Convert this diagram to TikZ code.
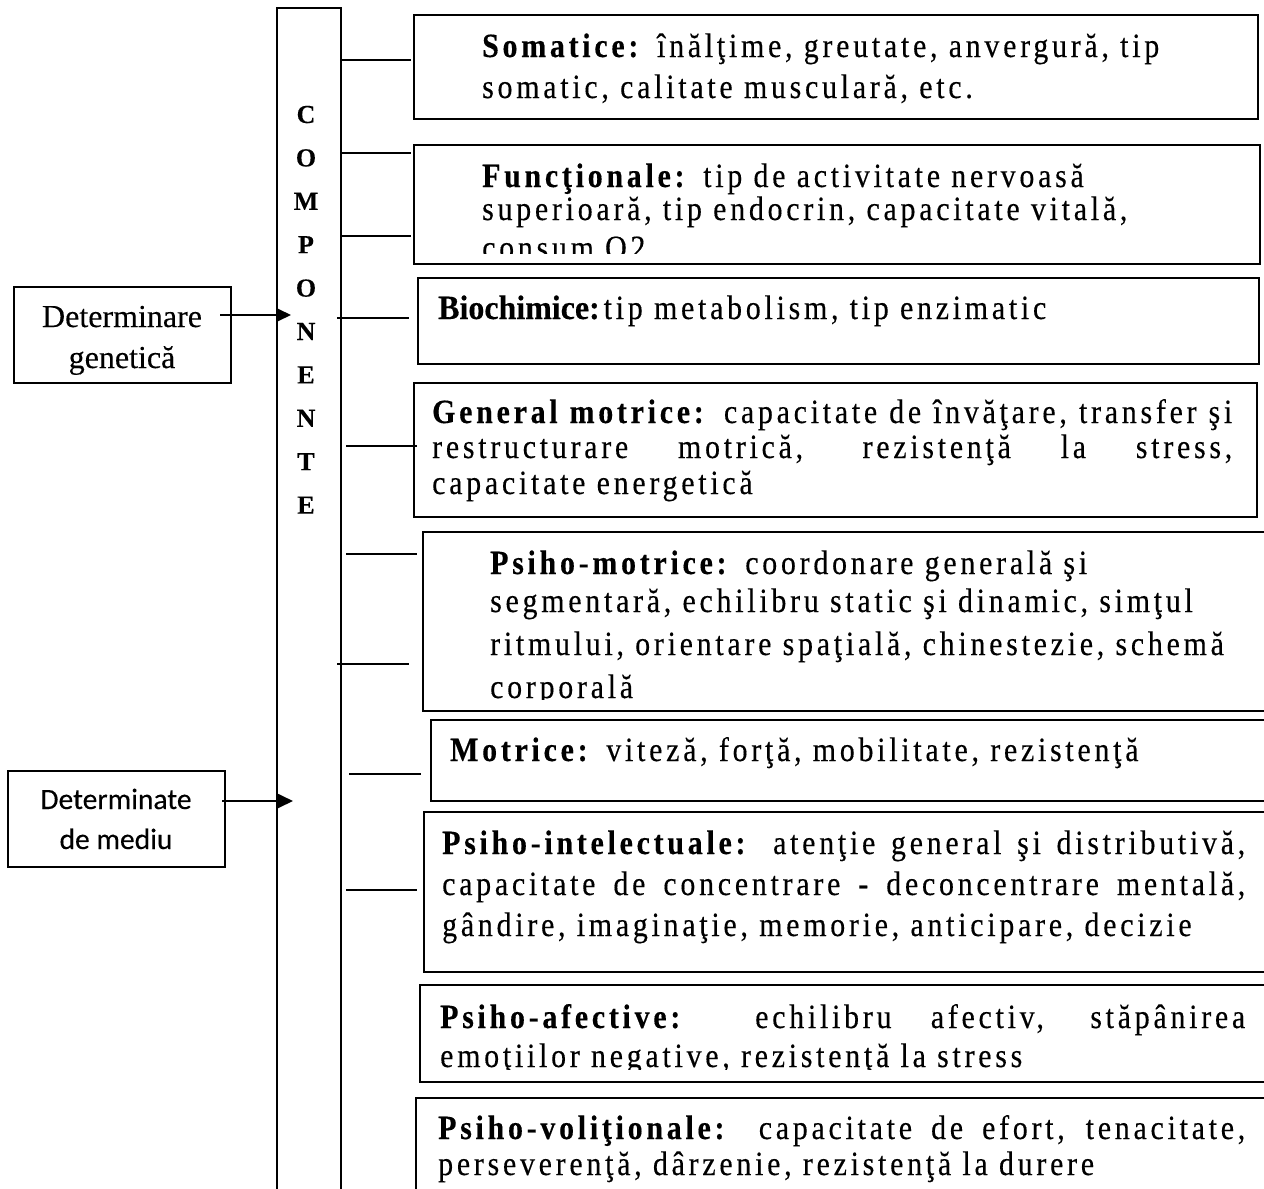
\documentclass[tikz,border=0pt]{standalone}
\usepackage{fontspec}
\setmainfont{Liberation Serif}
\newfontfamily\txf{Liberation Serif}[LetterSpace=11,FakeStretch=0.88,FakeBold=0.3]
\newfontfamily\txn{Liberation Serif}[FakeStretch=0.94,FakeBold=0.3]
\newfontfamily\dgf{Liberation Serif}[FakeBold=0.25]
\newfontfamily\carl{Carlito}[FakeBold=0.2]
\usetikzlibrary{arrows.meta}
\begin{document}
\begin{tikzpicture}[x=1pt,y=-1pt,
  frame/.style={draw, line width=1.8pt, inner sep=0pt, anchor=north west},
  conn/.style={line width=1.8pt},
  arr/.style={line width=1.8pt, -{Triangle[length=15pt,width=14pt]}},
  tl/.style={anchor=base west, inner sep=0pt, font=\txf\fontsize{34}{40}\selectfont},
  lt/.style={anchor=base, inner sep=0pt, font=\dgf\fontsize{26}{30}\selectfont\bfseries},
  dgt/.style={anchor=base, inner sep=0pt, font=\dgf\fontsize{32}{36}\selectfont},
  dmt/.style={anchor=base, inner sep=0pt, font=\carl\fontsize{29.5}{34}\selectfont},
]
\useasboundingbox (0,0) rectangle (1264,1189);

% column
\node[frame, minimum width=64pt, minimum height=1200pt] (col) at (276,7) {};
\foreach \l [count=\i] in {C,O,M,P,O,N,E,N,T,E}
  \node[lt] (L\i) at (306,{123+43.4*(\i-1)}) {\l};

% left boxes
\node[frame, minimum width=217pt, minimum height=96pt] (dg) at (13,286) {};
\node[dgt] (dg1) at (122,327) {Determinare};
\node[dgt] (dg2) at (122,368) {genetică};
\node[frame, minimum width=217pt, minimum height=96pt] (dm) at (7,770) {};
\node[dmt] (dm1) at (116,809) {Determinate};
\node[dmt] (dm2) at (116,849) {de mediu};

\coordinate (a1s) at (220,315); \coordinate (a1e) at (291,315);
\coordinate (a2s) at (222,801); \coordinate (a2e) at (293,801);
\draw[arr] (a1s) -- (a1e);
\draw[arr] (a2s) -- (a2e);

% right boxes
\node[frame, minimum width=844pt, minimum height=104pt] (som) at (413,14) {};
\node[frame, minimum width=846pt, minimum height=119pt] (fun) at (413,144) {};
\node[frame, minimum width=841pt, minimum height=86pt] (bio) at (417,277) {};
\node[frame, minimum width=843pt, minimum height=134pt] (gen) at (413,382) {};
\node[frame, minimum width=870pt, minimum height=179pt] (pmo) at (422,531) {};
\node[frame, minimum width=870pt, minimum height=81pt] (mot) at (430,719) {};
\node[frame, minimum width=870pt, minimum height=160pt] (pin) at (423,811) {};
\node[frame, minimum width=870pt, minimum height=97pt] (paf) at (419,984) {};
\node[frame, minimum width=870pt, minimum height=130pt] (pvo) at (415,1097) {};

% connectors
\foreach \y/\xa/\xb [count=\k] in {60/340/411,153/340/411,236/340/411,318/337/409,446/346/417,554/346/417,664/337/409,774/349/421,890/346/417}{
  \coordinate (c\k a) at (\xa,\y);
  \coordinate (c\k b) at (\xb,\y);
  \draw[conn] (c\k a) -- (c\k b);
}

% texts
\node[tl] (som1) at (482,57) {\textbf{Somatice:} înălţime, greutate, anvergură, tip};
\node[tl] (som2) at (482,98) {somatic, calitate musculară, etc.};

\node[tl] (fun1) at (482,187) {\textbf{Funcţionale:} tip de activitate nervoasă};
\node[tl] (fun2) at (482,220) {superioară, tip endocrin, capacitate vitală,};
\begin{scope}
  \clip (470,230) rectangle (1250,253);
  \node[tl] (fun3) at (482,259) {consum O2};
\end{scope}

\node[tl] (bio1) at (438,319) {{\txn\bfseries Biochimice:}\hspace{4pt}tip metabolism, tip enzimatic};

\node[tl] (gen1) at (432,423) {\makebox[800pt][s]{\textbf{General motrice:} capacitate de învăţare, transfer şi}};
\node[tl] (gen2) at (432,458) {\makebox[800pt][s]{restructurare motrică, rezistenţă la stress,}};
\node[tl] (gen3) at (432,494) {capacitate energetică};

\node[tl] (pmo1) at (490,574) {\textbf{Psiho-motrice:} coordonare generală şi};
\node[tl] (pmo2) at (490,612) {segmentară, echilibru static şi dinamic, simţul};
\node[tl] (pmo3) at (490,655) {ritmului, orientare spaţială, chinestezie, schemă};
\begin{scope}
  \clip (470,670) rectangle (1250,699);
  \node[tl] (pmo4) at (490,698) {corporală};
\end{scope}

\node[tl] (mot1) at (450,761) {\textbf{Motrice:} viteză, forţă, mobilitate, rezistenţă};

\node[tl] (pin1) at (442,854) {\makebox[803pt][s]{\textbf{Psiho-intelectuale:} atenţie general şi distributivă,}};
\node[tl] (pin2) at (442,895) {\makebox[803pt][s]{capacitate de concentrare - deconcentrare mentală,}};
\node[tl] (pin3) at (442,936) {gândire, imaginaţie, memorie, anticipare, decizie};

\node[tl] (paf1) at (440,1028) {\makebox[805pt][s]{\textbf{Psiho-afective:} echilibru afectiv, stăpânirea}};
\begin{scope}
  \clip (430,1035) rectangle (1250,1069);
  \node[tl] (paf2) at (440,1067) {emoţiilor negative, rezistenţă la stress};
\end{scope}

\node[tl] (pvo1) at (438,1139) {\makebox[807pt][s]{\textbf{Psiho-voliţionale:} capacitate de efort, tenacitate,}};
\node[tl] (pvo2) at (438,1175) {perseverenţă, dârzenie, rezistenţă la durere};
\end{tikzpicture}
\end{document}
